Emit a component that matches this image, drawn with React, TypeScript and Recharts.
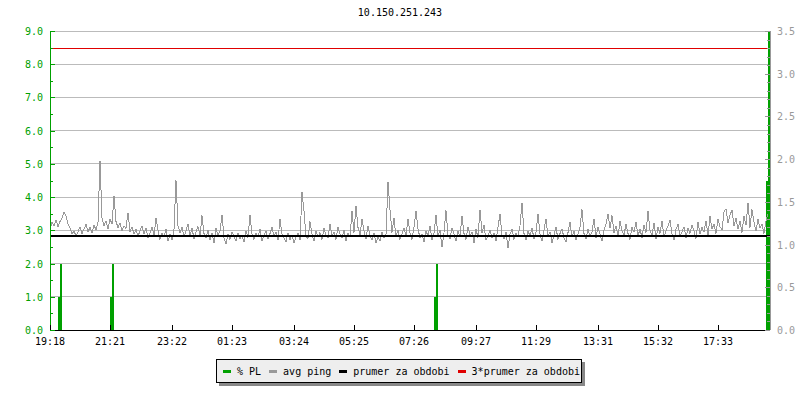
import { ComposedChart, Line, Area, XAxis, YAxis, CartesianGrid } from "recharts";

// avg ping (right axis), one sample every ~4 min
const avgPing = [
  1.18, 1.26, 1.22, 1.29, 1.21, 1.27, 1.31, 1.38, 1.33, 1.24,
  1.19, 1.12, 1.16, 1.10, 1.15, 1.21, 1.13, 1.18, 1.24, 1.15,
  1.20, 1.14, 1.23, 1.17, 1.26, 1.98, 1.31, 1.22, 1.28, 1.18,
  1.30, 1.24, 1.57, 1.27, 1.20, 1.25, 1.16, 1.22, 1.19, 1.37,
  1.15, 1.21, 1.12, 1.18, 1.10, 1.16, 1.22, 1.13, 1.19, 1.08,
  1.14, 1.20, 1.11, 1.31, 1.17, 1.06, 1.13, 1.09, 1.18, 1.04,
  1.12, 1.05, 1.18, 1.75, 1.22, 1.14, 1.20, 1.09, 1.16, 1.24,
  1.11, 1.19, 1.07, 1.15, 1.21, 1.10, 1.34, 1.13, 1.08, 1.17,
  1.05, 1.14, 1.02, 1.19, 1.10, 1.16, 1.35, 1.08, 1.01, 1.12,
  1.06, 1.15, 1.09, 1.04, 1.13, 1.07, 1.11, 1.03, 1.16, 1.08,
  1.35, 1.12, 1.06, 1.14, 1.09, 1.18, 1.04, 1.11, 1.16, 1.07,
  1.13, 1.20, 1.10, 1.15, 1.05, 1.30, 1.12, 1.08, 1.03, 1.14,
  1.06, 1.11, 1.02, 1.09, 1.13, 1.05, 1.62, 1.39, 1.10, 1.07,
  1.27, 1.12, 1.04, 1.16, 1.09, 1.14, 1.06, 1.19, 1.11, 1.08,
  1.24, 1.10, 1.15, 1.06, 1.21, 1.12, 1.08, 1.17, 1.04, 1.13,
  1.09, 1.39, 1.14, 1.45, 1.20, 1.11, 1.30, 1.16, 1.07, 1.22,
  1.10, 1.05, 1.13, 1.02, 1.09, 1.04, 1.15, 1.08, 1.12, 1.73,
  1.41, 1.14, 1.31, 1.09, 1.17, 1.06, 1.12, 1.19, 1.10, 1.30,
  1.14, 1.06, 1.20, 1.39, 1.18, 1.08, 1.12, 1.03, 1.16, 1.10,
  1.22, 1.05, 1.13, 1.35, 1.09, 1.17, 0.97, 1.14, 1.40, 1.11,
  1.07, 1.19, 1.12, 1.04, 1.16, 1.09, 1.33, 1.13, 1.06, 1.21,
  1.10, 1.15, 1.02, 1.18, 1.08, 1.41, 1.14, 1.23, 1.05, 1.11,
  1.17, 1.08, 1.13, 1.04, 1.20, 1.36, 1.11, 1.07, 1.15, 0.96,
  1.12, 1.18, 1.06, 1.14, 1.09, 1.22, 1.49, 1.13, 1.05, 1.16,
  1.10, 1.19, 1.07, 1.14, 1.36, 1.12, 1.04, 1.17, 1.30, 1.09,
  1.15, 1.02, 1.11, 1.20, 1.06, 1.13, 1.18, 1.08, 1.03, 1.14,
  1.26, 1.09, 1.16, 1.05, 1.12, 1.20, 1.41, 1.13, 1.07, 1.18,
  1.10, 1.15, 1.30, 1.08, 1.21, 1.12, 1.04, 1.17, 1.24, 1.36,
  1.19, 1.34, 1.14, 1.22, 1.09, 1.27, 1.16, 1.11, 1.24, 1.13,
  1.06, 1.20, 1.15, 1.26, 1.10, 1.18, 1.08, 1.23, 1.14, 1.39,
  1.17, 1.11, 1.25, 1.07, 1.20, 1.13, 1.28, 1.09, 1.16, 1.22,
  1.29, 1.12, 1.05, 1.18, 1.24, 1.10, 1.15, 1.21, 1.08, 1.19,
  1.13, 1.23, 1.16, 1.07, 1.26, 1.12, 1.20, 1.15, 1.28, 1.10,
  1.33, 1.18, 1.24, 1.13, 1.30, 1.21, 1.17, 1.38, 1.42, 1.25,
  1.35, 1.40, 1.22, 1.31, 1.18, 1.27, 1.14, 1.33, 1.23, 1.49,
  1.20, 1.41, 1.26, 1.16, 1.30, 1.19, 1.24, 1.13, 1.28, 1.36,
];

// packet loss spikes: [sample index, % PL]
const plEvents = [
  [4, 1], [5, 2],
  [30, 1], [31, 2],
  [192, 1], [193, 2],
  [358, 4.5], [359, 9],
];

const meanPing = 1.1;
const meanPing3 = 3.3;

const timeLabels = ["19:18", "21:21", "23:22", "01:23", "03:24", "05:25", "07:26", "09:27", "11:29", "13:31", "15:32", "17:33"];
const timeTickIdx = [0, 30, 61, 91, 122, 152, 182, 213, 243, 274, 304, 334];

const plTicks = [0, 1, 2, 3, 4, 5, 6, 7, 8, 9];
const plMinorTicks = [0.5, 1.5, 2.5, 3.5, 4.5, 5.5, 6.5, 7.5, 8.5];
const pingTicks = Array.from({ length: 36 }, (_, k) => k / 10);

const N = avgPing.length;
const data: any[] = avgPing.map((v, i) => {
  const ev = plEvents.find((e) => e[0] === i);
  return { i, ping: v, pl: ev ? ev[1] : 0, mean: meanPing, mean3: meanPing3 };
});
// closing row so the last step reaches the right edge
data.push({ i: N, pl: 0, mean: meanPing, mean3: meanPing3 });

const GREEN = "#00a000";
const FONT = "'DejaVu Sans Mono', monospace";

const LeftTick = (props: any) => {
  const { x, y, payload } = props;
  const major = Number.isInteger(payload.value);
  const yy = Math.round(y) + 0.5;
  return (
    <g>
      <line x1={x} x2={x + (major ? 5 : 3)} y1={yy} y2={yy} stroke={GREEN} />
      {major && (
        <text x={x - 7} y={y} dy={4} textAnchor="end" fill={GREEN} fontSize={10} fontFamily={FONT}>
          {payload.value.toFixed(1)}
        </text>
      )}
    </g>
  );
};

const RightTick = (props: any) => {
  const { x, y, payload } = props;
  const major = Math.round(payload.value * 10) % 5 === 0;
  const yy = Math.round(y) + 0.5;
  return (
    <g>
      <line x1={x} x2={x - (major ? 5 : 3)} y1={yy} y2={yy} stroke="#999" />
      {major && (
        <text x={x + 7} y={y} dy={4} textAnchor="start" fill="#999" fontSize={10} fontFamily={FONT}>
          {payload.value.toFixed(1)}
        </text>
      )}
    </g>
  );
};

const TimeTick = (props: any) => {
  const { x, y, payload } = props;
  const k = timeTickIdx.indexOf(payload.value);
  const xx = Math.round(x) + 0.5;
  return (
    <g>
      <line x1={xx} x2={xx} y1={y - 5} y2={y} stroke="#000" />
      <text x={x} y={y + 15} textAnchor="middle" fill="#000" fontSize={10} fontFamily={FONT}>
        {timeLabels[k]}
      </text>
    </g>
  );
};

const legendItems = [
  { label: "% PL", color: GREEN },
  { label: "avg ping", color: "#999" },
  { label: "prumer za obdobi", color: "#000" },
  { label: "3*prumer za obdobi", color: "#e00000" },
];

export default function App() {
  return (
    <div style={{ position: "absolute", left: 0, top: 0, width: 800, height: 400, background: "#fff" }}>
      <div
        style={{
          position: "absolute",
          top: 7,
          width: 800,
          textAlign: "center",
          fontFamily: FONT,
          fontSize: 10,
          color: "#000",
        }}
      >
        10.150.251.243
      </div>
      <ComposedChart width={800} height={400} data={data} margin={{ top: 31, right: 0, bottom: 40, left: 0 }}>
        <CartesianGrid yAxisId="left" vertical={false} horizontalValues={plTicks} stroke="#bbb" shapeRendering="crispEdges" />
        <XAxis
          dataKey="i"
          type="number"
          domain={[0, N]}
          ticks={timeTickIdx}
          interval={0}
          height={30}
          tickSize={0}
          tickMargin={0}
          axisLine={{ stroke: "#000", shapeRendering: "crispEdges" }}
          tickLine={false}
          tick={<TimeTick />}
        />
        <YAxis
          yAxisId="left"
          domain={[0, 9]}
          ticks={[...plTicks, ...plMinorTicks].sort((a, b) => a - b)}
          interval={0}
          width={50}
          tickSize={0}
          tickMargin={0}
          axisLine={{ stroke: GREEN, shapeRendering: "crispEdges" }}
          tickLine={false}
          tick={<LeftTick />}
          allowDataOverflow
        />
        <YAxis
          yAxisId="right"
          orientation="right"
          domain={[0, 3.5]}
          ticks={pingTicks}
          interval={0}
          width={30}
          tickSize={0}
          tickMargin={0}
          axisLine={{ stroke: "#999", shapeRendering: "crispEdges" }}
          tickLine={false}
          tick={<RightTick />}
          allowDataOverflow
        />
        <Area
          yAxisId="left"
          type="stepAfter"
          dataKey="pl"
          stroke="none"
          fill={GREEN}
          fillOpacity={1}
          shapeRendering="crispEdges"
          isAnimationActive={false}
        />
        <Line
          yAxisId="right"
          type="linear"
          dataKey="ping"
          stroke="#999"
          strokeWidth={1}
          dot={false}
          shapeRendering="crispEdges"
          isAnimationActive={false}
        />
        <Line
          yAxisId="right"
          type="linear"
          dataKey="mean"
          stroke="#000"
          strokeWidth={2}
          dot={false}
          shapeRendering="crispEdges"
          isAnimationActive={false}
        />
        <Line
          yAxisId="right"
          type="linear"
          dataKey="mean3"
          stroke="#e00000"
          strokeWidth={1}
          dot={false}
          shapeRendering="crispEdges"
          isAnimationActive={false}
        />
      </ComposedChart>
      <div
        style={{
          position: "absolute",
          left: 216,
          top: 359,
          width: 358,
          height: 22,
          border: "1px solid #000",
          background: "#eee",
          boxShadow: "3px 3px 0 #888",
          display: "flex",
          alignItems: "center",
          paddingLeft: 6,
          boxSizing: "content-box",
          fontFamily: FONT,
          fontSize: 10,
          color: "#000",
          whiteSpace: "nowrap",
        }}
      >
        {legendItems.map((it) => (
          <span key={it.label} style={{ display: "inline-flex", alignItems: "center", marginRight: 8 }}>
            <span style={{ display: "inline-block", width: 8, height: 3, background: it.color, marginRight: 6 }} />
            {it.label}
          </span>
        ))}
      </div>
    </div>
  );
}
